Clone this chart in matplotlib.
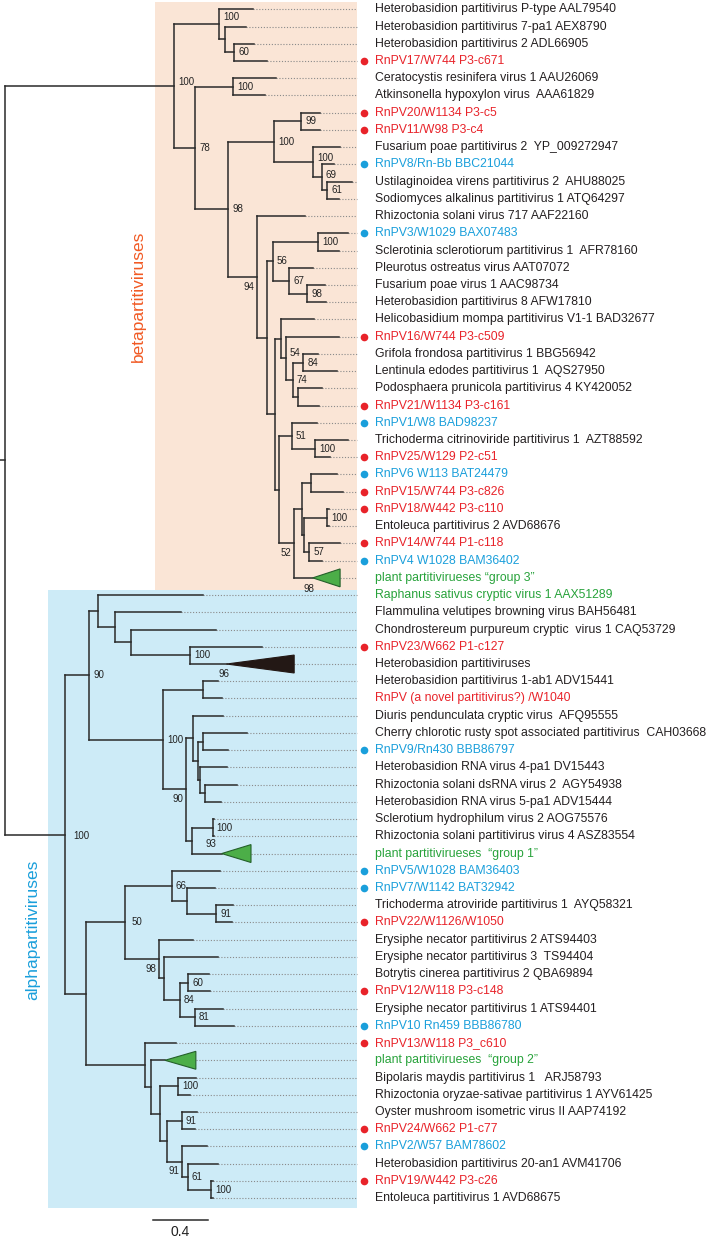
import matplotlib
matplotlib.use("Agg")
import matplotlib.pyplot as plt
from matplotlib.collections import LineCollection
from matplotlib.patches import Rectangle, Polygon

plt.rcParams['font.family'] = ['Liberation Sans', 'DejaVu Sans']

# ---- data: tree (newick, branch lengths + bootstrap), leaf labels, leaf groups ----
beta_top = "(1:0.245,(2:0.153,(3:0.143,4:0.236)60:0.068):0.041)100:0.329"
beta_cerat = "(5:0.317,6:0.235)100:0.274"
beta_fus = ("((7:0.138,8:0.138)99:0.196,(9:0.191,(10:0.090,(11:0.185,12:0.086)61:0.039)69:0.059)"
            "100:0.287)100:0.332")
beta_scl = "((14:0.223,15:0.157)100:0.327,(16:0.172,(17:0.133,18:0.140)98:0.129)67:0.119)56:0.044"
beta_hel = ("(19:0.242,(20:0.390,((21:0.109,22:0.243)84:0.077,(23:0.175,24:0.157):0.036)74:0.051)"
            "54:0.036):0.041")
beta_tri = "(25:0.182,(26:0.242,27:0.109)100:0.169)51:0.090"
beta_ent = ("(((28:0.193,29:0.233):0.065,((30:0.012,31:0.012)100:0.169,(32:0.223,33:0.090)57:0.039)"
            ":0.017):0.056,34:0.136)52:0.107")
beta = (f"({beta_top},({beta_cerat},({beta_fus},(13:0.351,({beta_scl},({beta_hel},"
        f"({beta_tri},{beta_ent}):0.031):0.060):0.073)94:0.207)98:0.242)78:0.153)100:1.229")

alpha_top = "(35:0.764,(36:0.478,(37:0.618,(38:0.526,39:0.267)100:0.429):0.116):0.121):0.065"
alpha_hrv = ("((42:0.218,((43:0.316,44:0.182):0.036,(45:0.202,(46:0.235,47:0.114):0.040):0.009)"
             ":0.041):0.049,((48:0.013,49:0.013)100:0.148,50:0.214):0.046)90:0.165")
alpha_mid = f"((40:0.109,41:0.134):0.291,{alpha_hrv})100:0.538"
alpha_ery = ("((51:0.351,(52:0.206,(53:0.121,54:0.116)91:0.213):0.109)66:0.340,(55:0.243,(56:0.388,"
             "((57:0.153,58:0.158)60:0.060,(59:0.206,60:0.284)81:0.109)84:0.114):0.036)98:0.249)50:0.284")
alpha_bot = ("(61:0.225,(62:0.104,((63:0.131,64:0.089)100:0.129,((65:0.109,66:0.097)91:0.109,"
             "(67:0.182,(68:0.223,(69:0.015,70:0.015)100:0.169)61:0.044)91:0.109):0.049):0.068)"
             ":0.041):0.429")
alpha = f"(({alpha_top},{alpha_mid})90:0.177,({alpha_ery},{alpha_bot}):0.153)100:0.436"

TREE = f"({beta},{alpha}):0.036;"

leaf_labels = [
    "Heterobasidion partitivirus P-type AAL79540",
    "Heterobasidion partitivirus 7-pa1 AEX8790",
    "Heterobasidion partitivirus 2 ADL66905",
    "RnPV17/W744 P3-c671",
    "Ceratocystis resinifera virus 1 AAU26069",
    "Atkinsonella hypoxylon virus  AAA61829",
    "RnPV20/W1134 P3-c5",
    "RnPV11/W98 P3-c4",
    "Fusarium poae partitivirus 2  YP_009272947",
    "RnPV8/Rn-Bb BBC21044",
    "Ustilaginoidea virens partitivirus 2  AHU88025",
    "Sodiomyces alkalinus partitivirus 1 ATQ64297",
    "Rhizoctonia solani virus 717 AAF22160",
    "RnPV3/W1029 BAX07483",
    "Sclerotinia sclerotiorum partitivirus 1  AFR78160",
    "Pleurotus ostreatus virus AAT07072",
    "Fusarium poae virus 1 AAC98734",
    "Heterobasidion partitivirus 8 AFW17810",
    "Helicobasidium mompa partitivirus V1-1 BAD32677",
    "RnPV16/W744 P3-c509",
    "Grifola frondosa partitivirus 1 BBG56942",
    "Lentinula edodes partitivirus 1  AQS27950",
    "Podosphaera prunicola partitivirus 4 KY420052",
    "RnPV21/W1134 P3-c161",
    "RnPV1/W8 BAD98237",
    "Trichoderma citrinoviride partitivirus 1  AZT88592",
    "RnPV25/W129 P2-c51",
    "RnPV6 W113 BAT24479",
    "RnPV15/W744 P3-c826",
    "RnPV18/W442 P3-c110",
    "Entoleuca partitivirus 2 AVD68676",
    "RnPV14/W744 P1-c118",
    "RnPV4 W1028 BAM36402",
    "plant partitivirueses \u201cgroup 3\u201d",
    "Raphanus sativus cryptic virus 1 AAX51289",
    "Flammulina velutipes browning virus BAH56481",
    "Chondrostereum purpureum cryptic  virus 1 CAQ53729",
    "RnPV23/W662 P1-c127",
    "Heterobasidion partitiviruses",
    "Heterobasidion partitivirus 1-ab1 ADV15441",
    "RnPV (a novel partitivirus?) /W1040",
    "Diuris pendunculata cryptic virus  AFQ95555",
    "Cherry chlorotic rusty spot associated partitivirus  CAH03668",
    "RnPV9/Rn430 BBB86797",
    "Heterobasidion RNA virus 4-pa1 DV15443",
    "Rhizoctonia solani dsRNA virus 2  AGY54938",
    "Heterobasidion RNA virus 5-pa1 ADV15444",
    "Sclerotium hydrophilum virus 2 AOG75576",
    "Rhizoctonia solani partitivirus virus 4 ASZ83554",
    "plant partitivirueses  \u201cgroup 1\u201d",
    "RnPV5/W1028 BAM36403",
    "RnPV7/W1142 BAT32942",
    "Trichoderma atroviride partitivirus 1  AYQ58321",
    "RnPV22/W1126/W1050",
    "Erysiphe necator partitivirus 2 ATS94403",
    "Erysiphe necator partitivirus 3  TS94404",
    "Botrytis cinerea partitivirus 2 QBA69894",
    "RnPV12/W118 P3-c148",
    "Erysiphe necator partitivirus 1 ATS94401",
    "RnPV10 Rn459 BBB86780",
    "RnPV13/W118 P3_c610",
    "plant partitivirueses  \u201cgroup 2\u201d",
    "Bipolaris maydis partitivirus 1   ARJ58793",
    "Rhizoctonia oryzae-sativae partitivirus 1 AYV61425",
    "Oyster mushroom isometric virus II AAP74192",
    "RnPV24/W662 P1-c77",
    "RnPV2/W57 BAM78602",
    "Heterobasidion partitivirus 20-an1 AVM41706",
    "RnPV19/W442 P3-c26",
    "Entoleuca partitivirus 1 AVD68675",
]

# k reference, r new RnPV (dot), n new RnPV (no dot), b known RnPV (dot), g plant
leaf_groups = ("kkkrkkrrkbkkkbkkkkkrkkkrbkrbrrkrbg"
               "gkkrkknkkbkkkkkgbbkrkkkrkbrgkkkrbkrk")

# collapsed clades: leaf number -> (depth of triangle, support)
collapsed = {34: (0.199, "98"), 39: (0.492, "96"), 50: (0.213, "93"), 62: (0.225, None)}

scale_len = 0.4

# ---- styles ----
TEXT_COL = {'k': '#231f20', 'r': '#e8232a', 'n': '#e8232a', 'b': '#1a9fdb', 'g': '#27a23a'}
DOT_COL = {'r': '#e8232a', 'b': '#1a9fdb'}
TRI_COL = {'g': ('#4cae48', '#24602a'), 'k': ('#231815', '#231815')}
LINE_COL = '#2a2a2a'
support_pos = {(1, 34): (3, 3), (1, 4): (3, 5), (9, 12): (3, 3), (10, 12): (3, 2),
               (20, 24): (3, 4), (35, 70): (6, -1), (51, 60): (5, 0),
               (13, 34): 'lb', (28, 34): 'lb', (42, 50): 'lb', (55, 60): 'lb', (67, 70): 'lb'}
collapsed_pos = {34: (-3, -8), 39: (-2, -7), 50: (-8, 7)}

DOT_END = 2.56     # end of dotted guide lines
DOT_X = 2.611
LABEL_X = 2.691


def parse(s):
    pos = 0

    def node():
        nonlocal pos
        n = {'children': [], 'name': '', 'len': 0.0}
        if s[pos] == '(':
            pos += 1
            while True:
                n['children'].append(node())
                if s[pos] == ',':
                    pos += 1
                    continue
                pos += 1
                break
        start = pos
        while s[pos] not in ':,);':
            pos += 1
        n['name'] = s[start:pos]
        if s[pos] == ':':
            pos += 1
            start = pos
            while s[pos] not in ',);':
                pos += 1
            n['len'] = float(s[start:pos])
        return n
    return node()


def layout(n, x0):
    n['x0'] = x0
    n['x'] = x0 + n['len']
    if not n['children']:
        n['y'] = int(n['name']) - 1
        n['span'] = (int(n['name']), int(n['name']))
    else:
        for c in n['children']:
            layout(c, n['x'])
        n['y'] = (n['children'][0]['y'] + n['children'][-1]['y']) / 2
        n['span'] = (n['children'][0]['span'][0], n['children'][-1]['span'][1])


def walk(n):
    yield n
    for c in n['children']:
        yield from walk(c)


root = parse(TREE)
layout(root, -root['len'])

fig = plt.figure(figsize=(7.13, 12.4), dpi=100)
ax = fig.add_axes([0, 0, 1, 1])
ax.set_xlim(-0.0364, 5.149)
ax.set_ylim(71.43, -0.54)
ax.axis('off')

# clade backgrounds
ax.add_patch(Rectangle((1.091, -0.45), DOT_END - 1.091, 33.7 + 0.45, fc='#fae5d6', ec='none', zorder=0))
ax.add_patch(Rectangle((0.315, 33.7), DOT_END - 0.315, 69.56 - 33.7, fc='#cdebf7', ec='none', zorder=0))

segs = []
dots = []
for n in walk(root):
    segs.append([(n['x0'], n['y']), (n['x'], n['y'])])
    if n['children']:
        segs.append([(n['x'], n['children'][0]['y']), (n['x'], n['children'][-1]['y'])])
        if n['name']:
            off = support_pos.get(n['span'], (3, 0))
            if off == 'lb':
                ax.annotate(n['name'], (n['x'], n['y']), xytext=(-2, -7), textcoords='offset points',
                            ha='right', va='center', fontsize=7, color='#222222')
            else:
                ax.annotate(n['name'], (n['x'], n['y']), xytext=off, textcoords='offset points',
                            ha='left', va='center', fontsize=7, color='#222222')
    else:
        k = int(n['name'])
        grp = leaf_groups[k - 1]
        tip = n['x']
        if k in collapsed:
            depth, sup = collapsed[k]
            fc, ec = TRI_COL[grp]
            ax.add_patch(Polygon([(tip, n['y']), (tip + depth, n['y'] - 0.52), (tip + depth, n['y'] + 0.52)],
                                 closed=True, fc=fc, ec=ec, lw=0.8, zorder=3))
            if sup:
                ax.annotate(sup, (tip, n['y']), xytext=collapsed_pos[k], textcoords='offset points',
                            ha='center', va='center', fontsize=7, color='#222222')
            tip = tip + depth
        dots.append([(tip, n['y']), (DOT_END, n['y'])])
        if grp in DOT_COL:
            ax.plot(DOT_X, n['y'], 'o', ms=5.5, color=DOT_COL[grp], mec='none', zorder=4)
        ax.text(LABEL_X, n['y'], leaf_labels[k - 1], ha='left', va='center', fontsize=8.8,
                color=TEXT_COL[grp])

ax.add_collection(LineCollection(dots, colors='#8a8a8a', linewidths=0.8, linestyles=(0, (1, 1.6)), zorder=1))
ax.add_collection(LineCollection(segs, colors=LINE_COL, linewidths=1.1, capstyle='projecting', zorder=2))

# group names
ax.text(0.967, 16.64, "betapartitiviruses", rotation=90, ha='center', va='center',
        fontsize=12.5, color='#f15a24')
ax.text(0.204, 53.44, "alphapartitiviruses", rotation=90, ha='center', va='center',
        fontsize=12.5, color='#1a9fdb')

# scale bar
ax.plot([1.074, 1.074 + scale_len], [70.27, 70.27], color=LINE_COL, lw=1.1)
ax.text(1.074 + scale_len / 2, 70.97, f"{scale_len}", ha='center', va='center', fontsize=10, color='#222222')

fig.savefig("out.png", dpi=100)
